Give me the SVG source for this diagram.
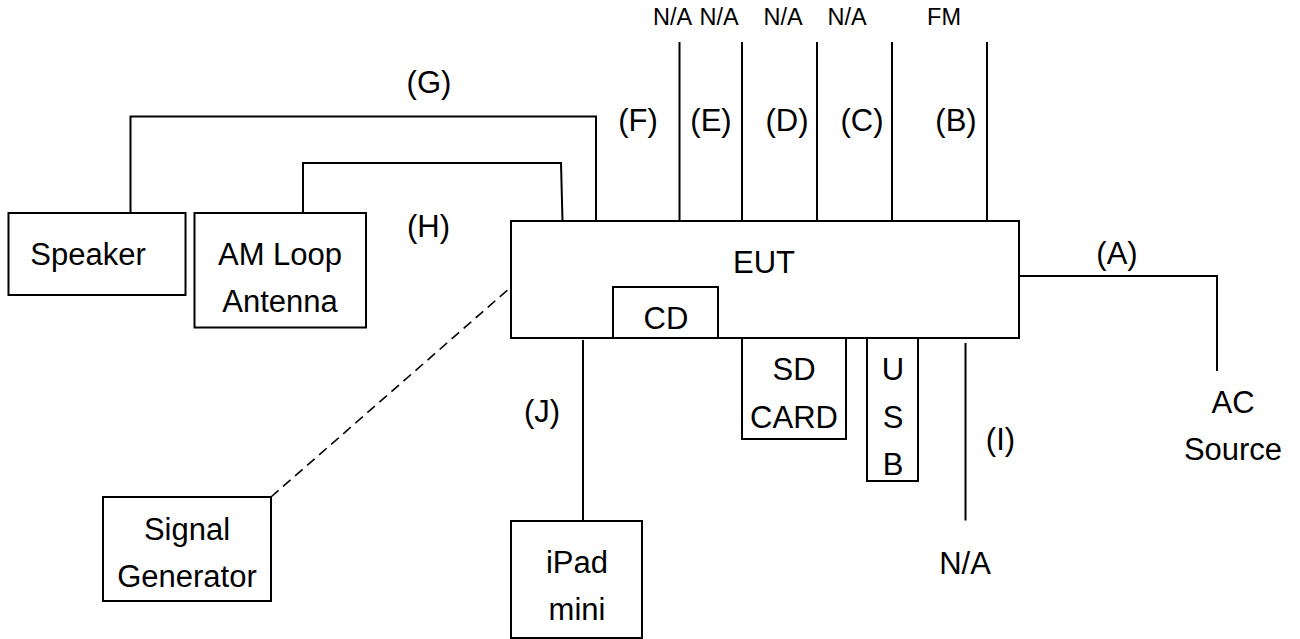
<svg xmlns="http://www.w3.org/2000/svg" width="1300" height="639" viewBox="0 0 1300 639">
<style>
.box{fill:#fff;stroke:#000;stroke-width:2}
.ln{fill:none;stroke:#000;stroke-width:2}
.dash{fill:none;stroke:#000;stroke-width:1.6;stroke-dasharray:10 6}
text{font-family:"Liberation Sans",Arial,sans-serif;font-size:31px;fill:#000;text-anchor:middle}
.sm{font-size:23.5px}
</style>
<rect width="1300" height="639" fill="#fff"/>
<g id="connectors">
<path class="ln" d="M130.5,213 V116.5 H596 V221"/>
<path class="ln" d="M303,213 V163 H561 L562.5,221"/>
<line class="ln" x1="679.5" y1="42" x2="679.5" y2="221"/>
<line class="ln" x1="742" y1="42" x2="742" y2="221"/>
<line class="ln" x1="817" y1="42" x2="817" y2="221"/>
<line class="ln" x1="892" y1="42" x2="892" y2="221"/>
<line class="ln" x1="987" y1="42" x2="987" y2="221"/>
<path class="ln" d="M1019,276 H1217 V371"/>
<line class="ln" x1="583" y1="340" x2="583" y2="521"/>
<line class="ln" x1="965.5" y1="343" x2="965.5" y2="520.5"/>
<line class="dash" x1="271" y1="497" x2="511" y2="287"/>
<text x="429" y="93">(G)</text>
<text x="428.5" y="237">(H)</text>
<text x="638" y="131">(F)</text>
<text x="711" y="131">(E)</text>
<text x="787" y="131">(D)</text>
<text x="862" y="131">(C)</text>
<text x="956" y="131">(B)</text>
<text x="1117" y="264">(A)</text>
<text x="542" y="422">(J)</text>
<text x="1000.5" y="449.5">(I)</text>
<text class="sm" x="672.5" y="24.5">N/A</text>
<text class="sm" x="719" y="24.5">N/A</text>
<text class="sm" x="783" y="24.5">N/A</text>
<text class="sm" x="847" y="24.5">N/A</text>
<text class="sm" x="944" y="24.5">FM</text>
<text x="965" y="573.5">N/A</text>
</g>
<g id="speaker">
<rect class="box" x="8.5" y="213" width="177" height="82"/>
<text x="88" y="265">Speaker</text>
</g>
<g id="am-loop-antenna">
<rect class="box" x="194.5" y="213" width="171.5" height="114.5"/>
<text x="280" y="265">AM Loop</text>
<text x="280" y="312">Antenna</text>
</g>
<g id="eut">
<rect class="box" x="511" y="221" width="508" height="117"/>
<text x="764" y="273">EUT</text>
</g>
<g id="cd">
<rect class="box" x="613" y="287" width="105" height="51"/>
<text x="666" y="329">CD</text>
</g>
<g id="sd-card">
<rect class="box" x="742" y="338" width="104" height="101"/>
<text x="794" y="380">SD</text>
<text x="794" y="428">CARD</text>
</g>
<g id="usb">
<rect class="box" x="867" y="338" width="51" height="143"/>
<text x="893" y="380">U</text>
<text x="893" y="428">S</text>
<text x="893" y="475">B</text>
</g>
<g id="ac-source">
<text x="1233" y="413">AC</text>
<text x="1233" y="460">Source</text>
</g>
<g id="signal-generator">
<rect class="box" x="103" y="497" width="168" height="104"/>
<text x="187" y="540">Signal</text>
<text x="187" y="587">Generator</text>
</g>
<g id="ipad-mini">
<rect class="box" x="511" y="521" width="131" height="117"/>
<text x="577" y="573">iPad</text>
<text x="577" y="620">mini</text>
</g>
</svg>
